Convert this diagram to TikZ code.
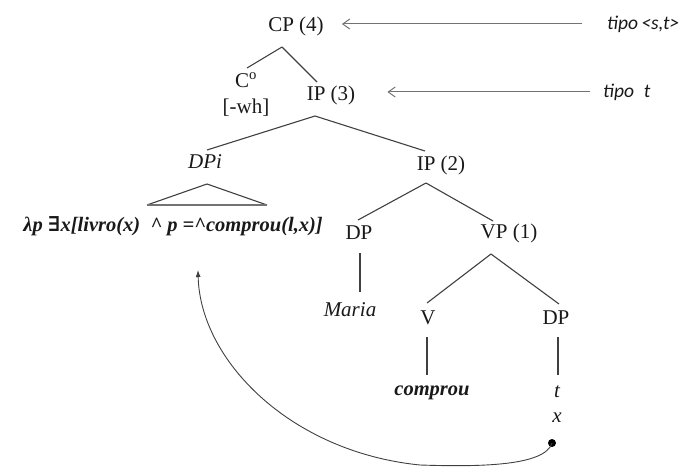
\documentclass[tikz,border=0pt]{standalone}
\usepackage{fontspec}
\setmainfont{Liberation Serif}
\newfontfamily\symf{DejaVu Serif}
\newfontfamily\calf{Carlito}
\usetikzlibrary{arrows.meta}
\begin{document}
\begin{tikzpicture}[x=1pt,y=-1pt,
  tn/.style={inner sep=0pt,font=\fontsize{21}{25}\selectfont,text=black!90},
  tni/.style={tn,font=\fontsize{21}{25}\selectfont\itshape},
  tnb/.style={tn,font=\fontsize{20.5}{24}\selectfont\bfseries\itshape},
  edge/.style={draw=black!75,line width=1.1pt},
  tarrow/.style={draw=black!55,line width=1pt,-{Straight Barb[length=7pt,width=10pt]}},
  tipolab/.style={inner sep=0pt,font=\fontsize{19.5}{23}\selectfont\calf\itshape,text=black!90},
  movecurve/.style={draw=black!75,line width=0.9pt,-{Latex[length=7pt,width=5pt]}}
]
\useasboundingbox (0,0) rectangle (693,468);
% nodes
\node[tn] (cp) at (296,26) {CP (4)};
\node[tn] (c0) at (246,80) {C\textsuperscript{o}};
\node[tn] (wh) at (246,108) {[-wh]};
\node[tn] (ip3) at (331,95) {IP (3)};
\node[tni] (dpi) at (205,162) {DPi};
\node[tn] (ip2) at (441,165) {IP (2)};
\node[tnb,anchor=east] (form) at (323,226) {λp {\symf\bfseries\itshape ∃}x[livro(x)\enspace\^{} p =\^{}comprou(l,x)]};
\node[tn] (dp) at (359,233) {DP};
\node[tn] (vp) at (509,233) {VP (1)};
\node[tni] (maria) at (350,310) {Maria};
\node[tn] (v) at (428,318) {V};
\node[tn] (dp2) at (556,318) {DP};
\node[tnb] (comprou) at (432,393) {comprou};
\node[tni] (t) at (557,392) {t};
\node[tni] (x) at (557,418) {x};
\node[circle,fill=black,inner sep=0pt,minimum size=8pt] (dot) at (552,443) {};
\node[tipolab,anchor=west] (tst) at (607,24) {tipo\,<s,t>};
\node[tipolab,anchor=west] (tt) at (603,92) {tipo\enspace t};
\coordinate (cpa) at ([xshift=18pt]cp.east);
\coordinate (ipa) at ([xshift=32pt]ip3.east);
% tree edges
\draw[edge] ([shift={(-14,21)}]cp.center) -- ([shift={(1,-12)}]c0.center);
\draw[edge] ([shift={(-14,21)}]cp.center) -- ([shift={(-14,-13)}]ip3.center);
\draw[edge] ([shift={(-16,21)}]ip3.center) -- ([shift={(2,-12)}]dpi.center);
\draw[edge] ([shift={(-16,21)}]ip3.center) -- ([shift={(-16,-14)}]ip2.center);
\draw[edge] ([shift={(-58,43)}]dpi.center) -- ([shift={(2,22)}]dpi.center) -- ([shift={(62,43)}]dpi.center);
\draw[draw=black!55,line width=2.2pt] ([shift={(-58,43)}]dpi.center) -- ([shift={(62,43)}]dpi.center);
\draw[edge] ([shift={(-15,18)}]ip2.center) -- ([shift={(-1,-13)}]dp.center);
\draw[edge] ([shift={(-15,18)}]ip2.center) -- ([shift={(-16,-12)}]vp.center);
\draw[edge] ([shift={(1,20)}]dp.center) -- ([shift={(10,-18)}]maria.center);
\draw[edge] ([shift={(-18,21)}]vp.center) -- ([shift={(-1,-15)}]v.center);
\draw[edge] ([shift={(-18,21)}]vp.center) -- ([shift={(3,-14)}]dp2.center);
\draw[edge] ([shift={(-1,19)}]v.center) -- ([shift={(-5,-18)}]comprou.center);
\draw[edge] ([shift={(2,19)}]dp2.center) -- ([shift={(1,-17)}]t.center);
% type arrows
\draw[tarrow] ([xshift=-25pt]tst.west) -- (tst.west -| cpa);
\draw[tarrow] ([xshift=-13pt]tt.west) -- (tt.west -| ipa);
% movement curve
\draw[movecurve] (dot.center) .. controls (545,466) and (480,467) .. (420,465)
  .. controls (290,452) and (200,360) .. ([shift={(-125,44)}]form.east);
\end{tikzpicture}
\end{document}
